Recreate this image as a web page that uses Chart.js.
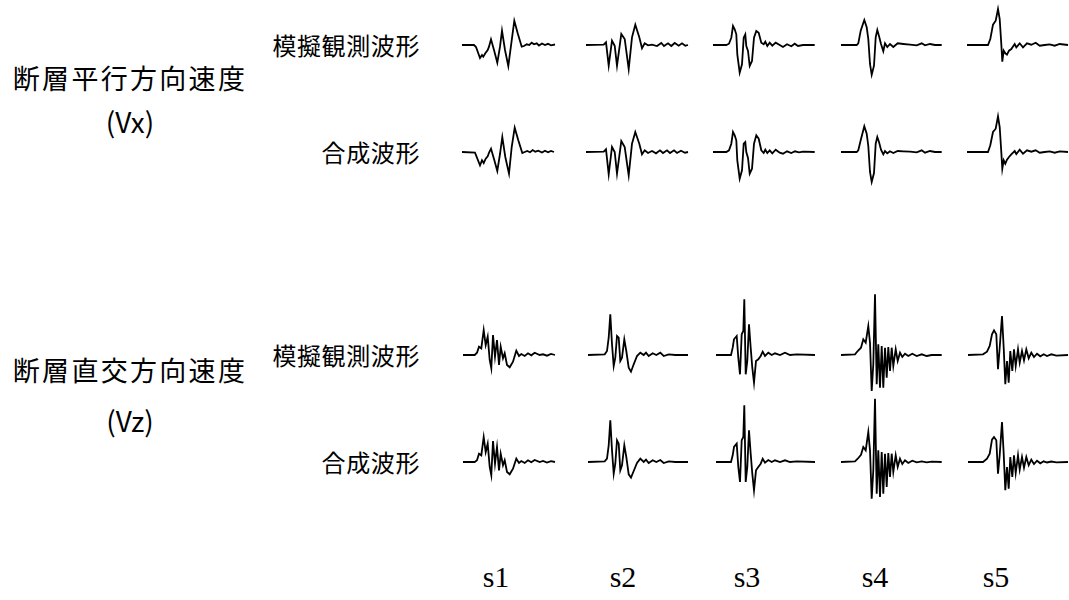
<!DOCTYPE html>
<html><head><meta charset="utf-8">
<script src="https://cdn.jsdelivr.net/npm/chart.js@4/dist/chart.umd.min.js"></script>
<style>
html,body{margin:0;padding:0;background:#fff;}
body{width:1069px;height:600px;position:relative;overflow:hidden;font-family:"Noto Sans CJK JP","Noto Sans",sans-serif;color:#000;}
.lbl{position:absolute;white-space:nowrap;line-height:1;transform:translateY(-50%);}
.panel{position:absolute;}
</style></head><body>
<script>
// ---- categories / labels ----
const stations = ['s1','s2','s3','s4','s5'];
const rowLabels = ['模擬観測波形','合成波形','模擬観測波形','合成波形'];
const groupLabels = ['断層平行方向速度','断層直交方向速度'];
const componentLabels = ['(Vx)','(Vz)'];

// ---- waveforms: [time, amplitude] ----
const vxObsS1 = [[0,0],[12,0],[14,-2],[18,-13],[20,-10],[21.3,-11.7],[23.3,-8.3],[25.7,-5],[27,-1.7],[29,5.7],[32,-5],[35.3,-17.7],[38,-1.7],[40,14.3],[43,-5],[46.3,-21],[49.3,1.7],[52.3,24.3],[55.7,11.7],[59.7,-1.7],[62,-1],[64.7,0.7],[67.3,0],[69.7,2.3],[72,0.7],[74.7,1.7],[77,-0.5],[80,1.5],[83,0],[86,1.2],[89,-0.3],[93,0.5]];
const vxSynS1 = [[0,0],[13,-0.7],[18,-13.3],[20,-8.3],[21.7,-11],[23.7,-6.7],[25.7,-4.3],[27.3,0],[29,3.3],[32,-7],[35.3,-19],[38,-2],[40.3,15],[43.3,-5],[47,-21.7],[49.7,5],[52.7,24.3],[56.3,11.7],[60.3,-1],[62.7,0],[65.3,1],[68,-0.3],[70.7,2],[73.3,0.3],[76.3,1.3],[80,-0.5],[83,1.2],[86,-0.3],[89,1],[92,0]];
const vxObsS2 = [[0,0],[17.7,0.3],[20,2.7],[22.7,-20.7],[26,4.3],[28.7,-0.7],[31,-20.7],[35.3,11],[38.7,6],[42.7,-24],[46,7.7],[49.3,20.3],[53.3,7.7],[56,-3.3],[58.7,1.7],[62,-0.3],[66,0.3],[71,-1],[75.3,2],[78,-1],[82,1.7],[85.3,-1],[88.7,2],[92.7,-0.7],[96,1.7],[99.3,-0.7],[102,0]];
const vxSynS2 = [[0,0],[17.7,0.3],[20,2.7],[22.7,-22.3],[26,5],[28.7,0],[31,-21.7],[35.3,11],[38.7,5],[42.7,-23.3],[46,8.3],[49.3,20],[53.3,8.3],[56,-2.3],[58.7,1.7],[62,-1],[66,1],[70,-1.3],[74,1.7],[77,-1],[81,1.7],[84,-1],[88,1.7],[91,-1],[95,1.3],[99,-0.7],[102,0]];
const vxObsS3 = [[0,0],[13.3,0],[16,1.3],[18.3,7.3],[20,19],[21.7,15.7],[23.3,10.7],[24.3,-9.3],[26.7,-27.7],[29,-19.3],[30.7,7.3],[32.3,10.7],[33.3,-1],[35,-6],[36.7,-21],[39,-16],[41,7.3],[43.3,14],[45.7,12.3],[48.3,2.3],[50.7,0.7],[52.3,3.3],[54.3,-1],[56.7,2.3],[59.3,-0.7],[62.7,2.3],[66.7,0],[70,-2],[74,0.7],[78.3,-1.3],[81.7,1.3],[85,-1],[90,0],[101.7,0]];
const vxSynS3 = [[0,0],[13.3,0],[16,1.7],[18.3,8.3],[20,20],[21.7,16.7],[23.3,11.7],[24.3,-8.3],[26.7,-26.7],[29,-18.3],[30.7,8.3],[32.3,10],[33.3,0],[35,-6],[36.7,-21.7],[39,-16.7],[41,8.3],[43.3,16.7],[45.7,13.3],[48.3,1.7],[50.7,-1],[52.3,2.3],[54.3,-1],[56.7,1.7],[59.3,-1.3],[62.7,2.3],[66.7,-0.7],[70,-1.7],[74,0.7],[78.3,-1],[82,0.7],[86,-0.3],[90,0.3],[101.7,0]];
const vxObsS4 = [[0,0],[15.7,0],[17.3,1.7],[19.7,14.3],[23.3,25],[25.7,17.7],[27.3,6],[29,-19],[30.7,-29.7],[33,-20.7],[34.7,7.7],[36.3,15],[38,9],[40,1],[42.3,-6.3],[44,1.7],[46.3,-2],[49,1],[52.3,-2],[56.7,1.7],[62.3,1],[69,0.3],[75.7,-0.3],[80.7,1.7],[84,-0.3],[89,1],[94,0],[100.7,0]];
const vxSynS4 = [[0,0],[15.7,0],[17.3,1.7],[19.7,11.7],[23.3,25.7],[25.7,18.3],[27.3,6],[29,-20],[30.7,-30],[33,-21],[34.7,8.3],[36.3,15],[38,10],[40,2.3],[42.3,-2.3],[44,1],[46.3,-1.3],[49,0.7],[52.3,-1],[56.7,1],[62.3,0.7],[69,0.3],[75.7,-0.3],[80.7,1.7],[84,-0.7],[89,1],[94,0],[100.7,0]];
const vxObsS5 = [[0,0],[21,0],[23.3,6],[26,20.3],[28.7,24.3],[31,36],[32.7,26],[34.3,1],[35.3,-16.7],[36.7,-5.7],[38.3,-8.3],[40,-9.7],[42,-5.7],[44.3,-4],[47.7,1],[49.3,-2.3],[52.7,1.7],[56,-2.3],[60,1.7],[64.3,0.3],[68.7,2.3],[72.7,-0.7],[77.7,0],[82.7,0.7],[87.7,-0.7],[92.7,1],[101,0]];
const vxSynS5 = [[0,0],[21,0],[23.3,6.7],[26,20],[28.7,23.3],[31,35.7],[32.7,25],[34.3,0],[35.3,-16.7],[36.7,-8.3],[38.3,-11.7],[40,-7.7],[42,-5],[44.3,-2.3],[47.7,1],[49.3,-2],[52.7,2.3],[56,-1.7],[60,1.7],[64.3,0.3],[68.7,1.7],[72.7,-0.7],[77.7,0],[82.7,0.7],[87.7,-0.7],[92.7,0.7],[101,0]];

const vzObsS1 = [[0,0],[11.7,0],[14,2.3],[16,8.3],[18.3,6.7],[20.7,25],[22.7,10],[24.7,18.3],[26.7,-5],[28.3,-13.3],[30,20],[32,-1.7],[34,15],[36,-10],[37.7,8.3],[40,-3.3],[41.7,1.7],[44,-10],[46.7,-12.3],[50,-6.7],[53.3,4.3],[56,-1],[58.3,1],[61.7,-1],[65,1.7],[68.3,-0.3],[71.7,2.3],[76.7,0],[80,0.7],[84,-0.7],[88,1],[92,0]];
const vzSynS1 = [[0,0],[11.7,0],[14,1.7],[16,8.3],[18.3,6.7],[20.7,25],[22.7,10],[24.7,18.3],[26.7,-5],[28.3,-13.3],[30,21],[32,-1.7],[34,15],[36,-8.3],[37.7,8.3],[40,-3.3],[41.7,1.7],[44,-10],[46.7,-12.3],[50,-6.7],[53.3,3.3],[56,-1],[58.3,1],[61.7,-1],[65,1.7],[68.3,-0.3],[71.7,2],[76.7,0],[80,1],[84,-0.5],[88,0.8],[92,0]];
const vzObsS2 = [[0,0],[16.7,0.7],[19,4],[20.7,17.3],[22.3,40.7],[24,10.7],[25.7,-11],[27.3,-2.7],[29,19],[30.7,17.3],[32.3,-6],[34,-2.7],[36.3,15.7],[38.3,4],[40.7,-12.7],[43,-16.7],[45.7,-9.3],[49,-1],[52.3,2.3],[55.7,0],[58,2.3],[60.7,-1],[64.7,1.7],[68.3,0],[72.3,2.3],[75.7,-1],[80.7,0.7],[87.3,0],[100,0]];
const vzSynS2 = [[0,0],[16.7,0.7],[19,3.3],[20.7,16.7],[22.3,41.7],[24,11.7],[25.7,-11.7],[27.3,-1.7],[29,21.7],[30.7,18.3],[32.3,-8.3],[34,-3.3],[36.3,16.7],[38.3,5],[40.7,-12.3],[43,-15.7],[45.7,-9],[49,-1],[52.3,3.3],[55.7,0],[58,2.3],[60.7,-1],[64.7,1.7],[68.3,0],[72.3,2],[75.7,-1],[80.7,0.7],[87.3,0],[100,0]];
const vzObsS3 = [[0,0],[15,0],[16.7,7.3],[18,15.7],[20.7,19],[22.3,-2.7],[24,-19.3],[25.7,20.7],[27.3,24],[28.3,55.7],[29.7,-19.3],[31.3,-6],[33,30.7],[34.7,7.3],[36.3,-12.7],[38,-27.7],[40,-6],[42.3,-4.3],[44.7,-1],[46.7,3.3],[49,-1],[52.3,2.3],[55.7,0],[59,1.7],[64,0],[69,2.3],[74,0],[80.7,0.7],[99,0]];
const vzSynS3 = [[0,0],[15,0],[16.7,6.7],[18,15],[20.7,18.3],[22.3,-5],[24,-20],[25.7,21.7],[27.3,25],[28.3,56.7],[29.7,-20],[31.3,-5],[33,31.7],[34.7,8.3],[36.3,-11.7],[38,-28.3],[40,-8.3],[42.3,-5],[44.7,-1.7],[46.7,3.3],[49,-0.7],[52.3,2],[55.7,0],[59,1.7],[64,0],[69,1.7],[74,0],[80.7,0.7],[99,0]];
const vzObsS4 = [[0,0],[14,0.7],[16.7,4],[20,7.3],[22.3,15.7],[24.7,12.3],[27.3,29],[29,12.3],[30.7,-36],[32.3,-9.3],[34,60.7],[35.7,-29.3],[37.3,10.7],[39,-32.7],[40.7,9],[42.3,-32.7],[44,7.3],[45.7,-22.7],[47.3,8],[49,-16],[50.7,7.3],[52.3,-11],[54.7,5.7],[56.7,-6],[59,2.3],[61.3,-2],[64,1.3],[67.3,-1],[71.3,1.3],[75.7,-1],[80.7,0.7],[85.7,-1],[90.7,0],[100.7,0]];
const vzSynS4 = [[0,0],[14,0.7],[16.7,3.3],[20,7.3],[22.3,15],[24.7,11.7],[27.3,30],[29,11.7],[30.7,-36.7],[32.3,-8.3],[34,63.3],[35.7,-31.7],[37.3,11.7],[39,-35],[40.7,10],[42.3,-31.7],[44,8.3],[45.7,-25],[47.3,9],[49,-15],[50.7,8.3],[52.3,-10],[54.7,6.7],[56.7,-5],[59,3.3],[61.3,-2],[64,1.7],[67.3,-1],[71.3,1.3],[75.7,-0.3],[80.7,0.7],[85.7,-0.3],[90.7,0.3],[100.7,0]];
const vzObsS5 = [[0,0],[15,0.7],[19,3.3],[21.7,9],[24,20.7],[26,24.7],[28.3,20.7],[30,-14.3],[31.7,7.3],[34,39],[35.7,7.3],[37.3,-29.3],[39,-6],[40.7,-27.7],[42.3,4],[44.3,-16],[46,5.7],[47.7,-11],[50,5.7],[51.7,-7.7],[54,4],[56,-5.3],[58.3,5.7],[60.7,-3.3],[63.3,2.3],[66,-2],[69,1.3],[72.3,-1.3],[75.7,0.7],[79,-1],[83.3,0.7],[88.3,-0.7],[100,0]];
const vzSynS5 = [[0,0],[15,0],[19,3.3],[21.7,8.3],[24,22.3],[26,25],[28.3,21.7],[30,-11.7],[31.7,6.7],[34,40],[35.7,8.3],[37.3,-28.3],[39,-5],[40.7,-26.7],[42.3,5],[44.3,-15],[46,6.7],[47.7,-11],[50,6.7],[51.7,-7.7],[54,5],[56,-5.7],[58.3,5],[60.7,-3.3],[63.3,2.3],[66,-2],[69,1.3],[72.3,-1.3],[75.7,0.7],[79,-0.5],[83.3,0.5],[88.3,-0.3],[100,0]];

const rows = [
  [vxObsS1, vxObsS2, vxObsS3, vxObsS4, vxObsS5],
  [vxSynS1, vxSynS2, vxSynS3, vxSynS4, vxSynS5],
  [vzObsS1, vzObsS2, vzObsS3, vzObsS4, vzObsS5],
  [vzSynS1, vzSynS2, vzSynS3, vzSynS4, vzSynS5]
];

// ---- layout (page positions only) ----
const rowBase = [45, 152, 355, 462];
const colStart = [[462,586,713,841,967],[462,586,713,841,967],[463,588,716,841,968],[463,588,716,841,968]];
const PW = 110, PH = 140;

function addLabel(text, css){
  const d = document.createElement('div');
  d.className = 'lbl';
  d.textContent = text;
  Object.assign(d.style, css);
  document.body.appendChild(d);
  return d;
}

rowLabels.forEach((t,i)=>{
  addLabel(t, {right:(1069-420)+'px', top:rowBase[i]+'px', fontSize:'24px', letterSpacing:'0.6px'});
});
const groupY = [77, 369], compY = [121, 420];
groupLabels.forEach((t,i)=>{
  const d = addLabel(t, {left:'130px', top:groupY[i]+'px', fontSize:'27px', letterSpacing:'2.3px'});
  d.style.transform = 'translate(-50%,-50%)';
  const c = addLabel(componentLabels[i], {left:'130px', top:compY[i]+'px', fontSize:'28px'});
  c.style.transform = 'translate(-50%,-50%)';
});
const stX = [496, 623, 747, 875, 996];
stations.forEach((s,i)=>{
  const d = addLabel(s, {left:stX[i]+'px', top:'577px', fontSize:'30px', fontFamily:'"Liberation Serif","DejaVu Serif",serif'});
  d.style.transform = 'translate(-50%,-50%)';
});

rows.forEach((row, r)=>{
  row.forEach((pts, c)=>{
    const cv = document.createElement('canvas');
    cv.width = PW; cv.height = PH;
    cv.className = 'panel';
    cv.style.left = colStart[r][c] + 'px';
    cv.style.top = (rowBase[r] - PH/2) + 'px';
    cv.style.width = PW + 'px'; cv.style.height = PH + 'px';
    document.body.appendChild(cv);
    new Chart(cv, {
      type: 'line',
      data: { datasets: [{
        label: rowLabels[r] + ' ' + stations[c],
        data: pts.map(p => ({x: p[0], y: p[1]})),
        borderColor: '#000', borderWidth: 1.8, pointRadius: 0, tension: 0, fill: false
      }]},
      options: {
        responsive: false, animation: false, events: [],
        layout: { padding: 0 },
        plugins: { legend: { display: false }, tooltip: { enabled: false } },
        scales: {
          x: { type: 'linear', display: false, min: 0, max: PW },
          y: { type: 'linear', display: false, min: -PH/2, max: PH/2 }
        }
      }
    });
  });
});
</script>
</body></html>
